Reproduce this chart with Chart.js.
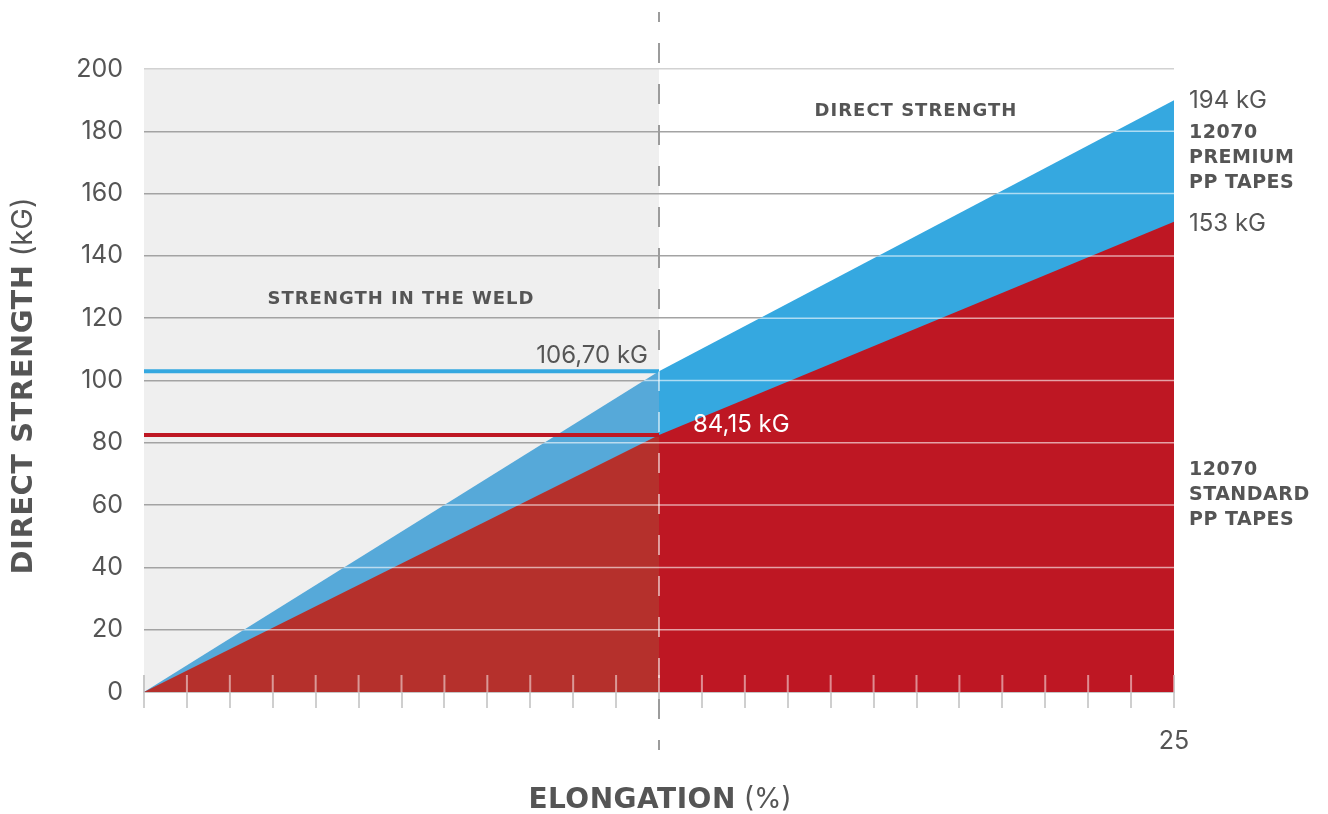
<!DOCTYPE html>
<html><head><meta charset="utf-8">
<script src="https://cdn.jsdelivr.net/npm/chart.js@4.4.1/dist/chart.umd.min.js"></script>
<style>html,body{margin:0;padding:0;background:#fff;overflow:hidden}#wrap{width:1328px;height:814px;position:relative}</style>
</head><body><div id="wrap"><canvas id="c" width="1328" height="814"></canvas></div>
<script>
// ---- data ----
const elongation = [0, 12.5, 25];
const premiumStrength = [0, 103, 190];
const standardStrength = [0, 82.5, 151];
const weldLimit = 12.5;
const weldPremium = 103;
const weldStandard = 82.5;
const yTicks = [0, 20, 40, 60, 80, 100, 120, 140, 160, 180, 200];
const xMax = 25;
const xTickCount = 24;
const xTickLabelShown = ['25'];
const textPremiumEnd = '194 kG';
const textStandardEnd = '153 kG';
const textPremiumWeld = '106,70 kG';
const textStandardWeld = '84,15 kG';
const namePremium = ['12070', 'PREMIUM', 'PP TAPES'];
const nameStandard = ['12070', 'STANDARD', 'PP TAPES'];
const zoneLeft = 'STRENGTH IN THE WELD';
const zoneRight = 'DIRECT STRENGTH';
const yTitle = ['DIRECT STRENGTH', ' (kG)'];
const xTitle = ['ELONGATION', ' (%)'];

// ---- colours ----
const BLUE = '#35a8e0', BLUE_L = '#56a9d9';
const RED = '#be1723', RED_L = '#b5302c';
const TXT = '#555555';
const BOLD = '"DejaVu Sans", sans-serif';
const REG = 'Inter, "DejaVu Sans", sans-serif';

function pts(xs, ys, from, to) {
  const out = [];
  for (let i = from; i <= to; i++) out.push({x: xs[i], y: ys[i]});
  return out;
}

function txt(ctx, s, x, yc, size, weight, family, color, align, spacing) {
  ctx.font = weight + ' ' + size + 'px ' + family;
  ctx.fillStyle = color;
  ctx.textAlign = align || 'left';
  ctx.textBaseline = 'alphabetic';
  ctx.letterSpacing = (spacing || 0) + 'px';
  ctx.fillText(s, x, yc + size * 0.36);
  ctx.letterSpacing = '0px';
}
function rich(ctx, parts, cx, yc, color) {
  let total = 0;
  const w = parts.map(p => {
    ctx.font = p[2] + ' ' + p[1] + 'px ' + p[3];
    ctx.letterSpacing = (p[4] || 0) + 'px';
    const m = ctx.measureText(p[0]).width;
    ctx.letterSpacing = '0px';
    total += m; return m;
  });
  let x = cx - total / 2;
  parts.forEach((p, i) => { txt(ctx, p[0], x, yc, p[1], p[2], p[3], color, 'left', p[4]); x += w[i]; });
}

const overlay = {
  id: 'overlay',
  beforeDraw(chart) {
    const {ctx, chartArea: a, scales: {x}} = chart;
    ctx.save();
    ctx.fillStyle = '#efefef';
    const xm = x.getPixelForValue(weldLimit);
    ctx.fillRect(a.left, a.top, xm - a.left, a.bottom - a.top);
    ctx.restore();
  },
  beforeDatasetsDraw(chart) {
    const {ctx, chartArea: a, scales: {x}} = chart;
    const xm = x.getPixelForValue(weldLimit);
    ctx.save();
    ctx.strokeStyle = '#9c9c9c';
    ctx.lineWidth = 2;
    ctx.setLineDash([20, 21]);
    ctx.lineDashOffset = 10;
    ctx.beginPath(); ctx.moveTo(xm, a.top - 57); ctx.lineTo(xm, a.bottom + 58); ctx.stroke();
    ctx.setLineDash([]);
    ctx.strokeStyle = '#c8c8c8';
    for (const t of x.ticks) {
      const px = x.getPixelForValue(t.value);
      ctx.beginPath(); ctx.moveTo(px, a.bottom - 17); ctx.lineTo(px, a.bottom); ctx.stroke();
    }
    ctx.restore();
  },
  afterDatasetsDraw(chart) {
    const {ctx, chartArea: a, scales: {x, y}} = chart;
    const xm = x.getPixelForValue(weldLimit);
    ctx.save();
    ctx.beginPath();
    ctx.moveTo(x.getPixelForValue(elongation[0]), y.getPixelForValue(0));
    for (let i = 0; i < elongation.length; i++) ctx.lineTo(x.getPixelForValue(elongation[i]), y.getPixelForValue(premiumStrength[i]));
    ctx.lineTo(x.getPixelForValue(elongation[elongation.length - 1]), y.getPixelForValue(0));
    ctx.closePath();
    ctx.clip();
    ctx.strokeStyle = 'rgba(255,255,255,0.6)';
    ctx.lineWidth = 1.5;
    for (const v of yTicks) {
      if (v === 0) continue;
      const py = y.getPixelForValue(v);
      ctx.beginPath(); ctx.moveTo(a.left, py); ctx.lineTo(a.right, py); ctx.stroke();
    }
    ctx.lineWidth = 2;
    ctx.strokeStyle = 'rgba(255,255,255,0.5)';
    for (const t of x.ticks) {
      const px = x.getPixelForValue(t.value);
      ctx.beginPath(); ctx.moveTo(px, a.bottom - 17); ctx.lineTo(px, a.bottom); ctx.stroke();
    }
    ctx.setLineDash([20, 21]);
    ctx.lineDashOffset = 10;
    ctx.strokeStyle = 'rgba(255,255,255,0.55)';
    ctx.beginPath(); ctx.moveTo(xm, a.top - 57); ctx.lineTo(xm, a.bottom + 58); ctx.stroke();
    ctx.restore();
  },
  afterDraw(chart) {
    const {ctx} = chart;
    ctx.save();
    txt(ctx, zoneLeft, 401, 298, 18, 700, BOLD, TXT, 'center', 1);
    txt(ctx, zoneRight, 916, 110, 18, 700, BOLD, TXT, 'center', 1);
    txt(ctx, textPremiumWeld, 648, 354, 24, 400, REG, TXT, 'right');
    txt(ctx, textStandardWeld, 693, 423, 24, 400, REG, '#ffffff', 'left');
    txt(ctx, textPremiumEnd, 1189, 99, 24, 400, REG, TXT, 'left');
    txt(ctx, textStandardEnd, 1189, 222, 24, 400, REG, TXT, 'left');
    [131, 156, 181].forEach((yy, i) => txt(ctx, namePremium[i], 1189, yy, 19, 700, BOLD, TXT, 'left', 0.5));
    [468, 493, 518].forEach((yy, i) => txt(ctx, nameStandard[i], 1189, yy, 19, 700, BOLD, TXT, 'left', 0.5));
    rich(ctx, [[xTitle[0], 28, 700, BOLD, 0.5], [xTitle[1], 28, 400, REG, 0]], 660, 798, TXT);
    ctx.translate(22, 386);
    ctx.rotate(-Math.PI / 2);
    rich(ctx, [[yTitle[0], 29, 700, BOLD, 0.5], [yTitle[1], 29, 400, REG, 0]], 0, 0, TXT);
    ctx.restore();
  }
};

const area = (data, color) => ({data, backgroundColor: color, borderColor: color, borderWidth: 0, pointRadius: 0, fill: 'origin', tension: 0});

new Chart(document.getElementById('c'), {
  type: 'line',
  data: {
    datasets: [
      {data: [{x: elongation[0], y: weldPremium}, {x: weldLimit, y: weldPremium}], borderColor: BLUE, borderWidth: 4, pointRadius: 0, fill: false},
      {data: [{x: elongation[0], y: weldStandard}, {x: weldLimit, y: weldStandard}], borderColor: RED, borderWidth: 4, pointRadius: 0, fill: false},
      area(pts(elongation, standardStrength, 0, 1), RED_L),
      area(pts(elongation, standardStrength, 1, 2), RED),
      area(pts(elongation, premiumStrength, 0, 1), BLUE_L),
      area(pts(elongation, premiumStrength, 1, 2), BLUE)
    ]
  },
  options: {
    responsive: false,
    animation: false,
    devicePixelRatio: 1,
    layout: {padding: {left: 0, right: 154, top: 69, bottom: 0}},
    plugins: {legend: {display: false}, tooltip: {enabled: false}},
    scales: {
      x: {
        type: 'linear', min: 0, max: xMax,
        afterBuildTicks: s => { s.ticks = Array.from({length: xTickCount + 1}, (_, i) => ({value: i * xMax / xTickCount})); },
        afterFit: s => { s.height = 122; },
        ticks: {autoSkip: false, maxRotation: 0, padding: 18, color: TXT, font: {family: REG, size: 25},
          callback: v => xTickLabelShown.includes(String(Math.round(v * 1000) / 1000)) ? String(v) : ''},
        grid: {drawOnChartArea: false, drawTicks: true, tickLength: 16, color: '#cfcfcf', lineWidth: 2},
        border: {display: true, color: '#c6c6c6', width: 2}
      },
      y: {
        min: 0, max: 200,
        afterBuildTicks: s => { s.ticks = yTicks.map(v => ({value: v})); },
        afterFit: s => { s.width = 144; },
        ticks: {padding: 21, color: TXT, font: {family: REG, size: 25}},
        grid: {drawTicks: false, lineWidth: 1.5, color: c => c.tick && c.tick.value === 200 ? '#d2d2d2' : (c.tick && c.tick.value === 0 ? '#c6c6c6' : '#a3a3a3')},
        border: {display: false}
      }
    }
  },
  plugins: [overlay]
});
</script></body></html>
